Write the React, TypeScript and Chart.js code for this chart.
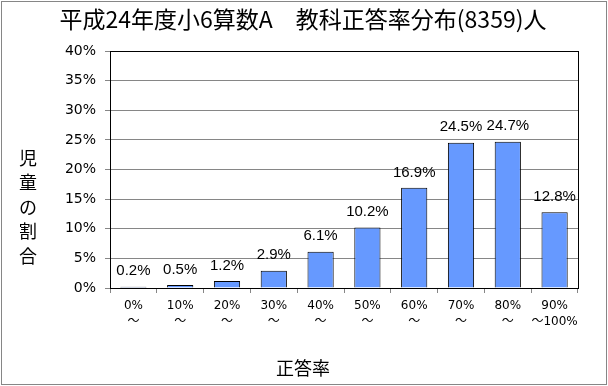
import React, { useEffect, useRef } from "react";
import { Chart, registerables } from "chart.js";

Chart.register(...registerables);

const titleText = "平成24年度小6算数A　教科正答率分布(8359)人";
const yTitleChars = ["児", "童", "の", "割", "合"];
const xTitleText = "正答率";
const categories: string[][] = [
  ["0%", "～"],
  ["10%", "～"],
  ["20%", "～"],
  ["30%", "～"],
  ["40%", "～"],
  ["50%", "～"],
  ["60%", "～"],
  ["70%", "～"],
  ["80%", "～"],
  ["90%", "～100%"],
];
const values = [0.2, 0.5, 1.2, 2.9, 6.1, 10.2, 16.9, 24.5, 24.7, 12.8];

const decorPlugin = {
  id: "decor",
  afterDatasetsDraw(chart: any) {
    const ctx = chart.ctx;
    const meta = chart.getDatasetMeta(0);
    ctx.save();
    ctx.fillStyle = "#000";
    ctx.font = '15px "Liberation Sans", sans-serif';
    ctx.textAlign = "center";
    ctx.textBaseline = "bottom";
    meta.data.forEach((bar: any, i: number) => {
      ctx.fillText(values[i].toFixed(1) + "%", bar.x, bar.y - 8);
    });
    ctx.restore();
  },
  afterDraw(chart: any) {
    const ctx = chart.ctx;
    const a = chart.chartArea;
    ctx.save();
    ctx.strokeStyle = "#000";
    ctx.lineWidth = 1;
    ctx.strokeRect(Math.round(a.left) + 0.5, Math.round(a.top) + 0.5, Math.round(a.right - a.left), Math.round(a.bottom - a.top));
    ctx.strokeStyle = "#868686";
    ctx.strokeRect(1.5, 1.5, chart.width - 3, chart.height - 3);
    ctx.fillStyle = "#000";
    ctx.textAlign = "center";
    ctx.textBaseline = "middle";
    ctx.font = '23px "Noto Sans CJK JP", sans-serif';
    ctx.fillText(titleText, 303, 19);
    ctx.font = '18px "Noto Sans CJK JP", sans-serif';
    yTitleChars.forEach((c, i) => {
      ctx.fillText(c, 28, 158 + i * 24.5);
    });
    ctx.fillText(xTitleText, 303, 368);
    ctx.restore();
  },
};

export default function App() {
  const ref = useRef<HTMLCanvasElement | null>(null);
  useEffect(() => {
    document.body.style.margin = "0";
    const canvas = ref.current!;
    const chart = new Chart(canvas, {
      type: "bar",
      data: {
        labels: categories,
        datasets: [
          {
            data: values,
            backgroundColor: "#6699FF",
            borderColor: "#000",
            borderWidth: 1,
            barPercentage: 0.56,
            categoryPercentage: 1,
          },
        ],
      },
      options: {
        animation: false,
        responsive: false,
        devicePixelRatio: 1,
        layout: { padding: { left: 56, right: 30, top: 51, bottom: 0 } },
        plugins: { legend: { display: false }, tooltip: { enabled: false }, title: { display: false } },
        scales: {
          x: {
            grid: { display: true, drawOnChartArea: false, drawTicks: true, tickLength: 5, color: "#868686", offset: true },
            border: { display: true, color: "#000" },
            ticks: {
              color: "#000",
              font: { family: '"DejaVu Sans", "Noto Sans CJK JP", sans-serif', size: 12, lineHeight: 1.35 },
              padding: 5,
              maxRotation: 0,
              autoSkip: false,
            },
            afterFit: (s: any) => {
              s.height = 98;
            },
          },
          y: {
            min: 0,
            max: 40,
            ticks: {
              stepSize: 5,
              color: "#000",
              font: { family: '"DejaVu Sans", sans-serif', size: 14 },
              padding: 9,
              callback: (v: any) => v + "%",
            },
            grid: { color: "#868686", tickLength: 5, drawTicks: true },
            border: { display: true, color: "#868686" },
            afterFit: (s: any) => {
              s.width = 54;
            },
          },
        },
      },
      plugins: [decorPlugin],
    });
    return () => chart.destroy();
  }, []);
  return (
    <div style={{ width: 608, height: 386 }}>
      <canvas ref={ref} width={608} height={386} style={{ display: "block" }} />
    </div>
  );
}
